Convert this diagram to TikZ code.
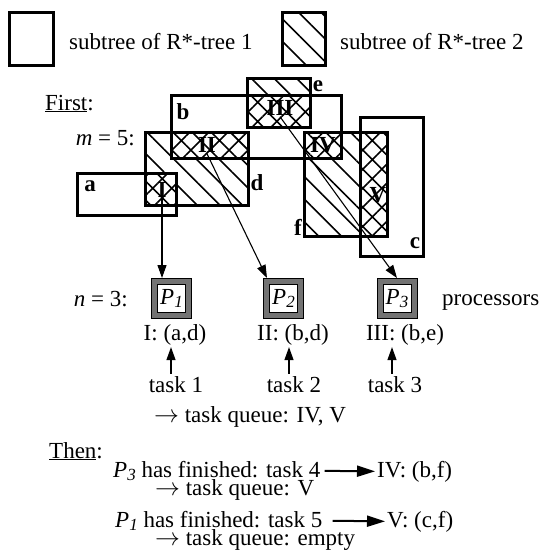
\documentclass[tikz,border=0pt]{standalone}
\usepackage{fontspec}
\setmainfont{Liberation Serif}
\usetikzlibrary{positioning, arrows.meta, patterns.meta, fit}

\newcommand{\proclabel}[1]{\textit{P\raisebox{-0.35ex}{\fontsize{17}{17}\selectfont #1}}}

\begin{document}
\begin{tikzpicture}[
		x=1pt, y=-1pt,
		>=Triangle,
		font=\fontsize{23}{27}\selectfont,
		% rectangles of the two R*-trees
		treeone/.style={inner sep=0pt},
		treetwo/.style={inner sep=0pt,
				pattern={Lines[angle=-45, distance=16pt, line width=1.6pt]}},
		treeborder/.style={draw, line width=2.8pt},
		crosshatch/.style={preaction={fill=white},
				pattern={Hatch[angle=45, distance=13.5pt, line width=1.6pt]}},
		% texts
		rectlabel/.style={font=\fontsize{23}{27}\selectfont\bfseries, inner sep=1pt},
		txt/.style={inner sep=2pt},
		% processors
		proc/.style={draw, line width=1pt, double=black!55, double distance=5pt,
				fill=white, minimum size=34pt, inner sep=0pt, outer sep=3.5pt},
		% arrows
		taskarrow/.style={->, line width=1.1pt, >={Triangle[length=13pt, width=9pt]}},
		assignarrow/.style={->, line width=2pt, >={Triangle[length=18pt, width=11pt]}}
	]
	\useasboundingbox (0,0) rectangle (549,551);

	% legend
	\node[treeone, fit={(10,13) (53,65)}] (legone) {};
	\node[txt, anchor=base west] (legonetext) at (67,50) {subtree of R*-tree 1};
	\node[treetwo, fit={(283,13) (325,65)}] (legtwo) {};
	\node[txt, anchor=base west] (legtwotext) at (338,50) {subtree of R*-tree 2};

	% first step
	\node[txt, anchor=base west] (first) at (43,110) {\underline{First}:};
	\node[txt, anchor=base east] (mfive) at (137,145) {\textit{m} = 5:};

	% the subtrees
	\node[treeone, fit={(78,174) (176,215)}] (a) {};
	\node[treeone, fit={(172,96) (341,158)}] (b) {};
	\node[treeone, fit={(361,118) (423,256)}] (c) {};
	\node[treetwo, fit={(146,133) (248,205)}] (d) {};
	\node[treetwo, fit={(248,79) (310,127)}] (e) {};
	\node[treetwo, fit={(305,133) (387,236)}] (f) {};

	% overlapping parts
	\path[crosshatch] (d.west |- a.north) rectangle (a.east |- d.south);
	\path[crosshatch] (b.west |- d.north) rectangle (d.east |- b.south);
	\path[crosshatch] (e.west |- b.north) rectangle (e.south east);
	\path[crosshatch] (f.north west) rectangle (b.south east);
	\path[crosshatch] (c.west |- f.north) rectangle (f.south east);

	% outlines on top
	\foreach \r in {legone, legtwo, a, b, c, d, e, f}
	\draw[treeborder] (\r.south west) rectangle (\r.north east);

	\node[rectlabel] (la) at (90,186) {a};
	\node[rectlabel] (lb) at (183,112) {b};
	\node[rectlabel] (lc) at (415,243) {c};
	\node[rectlabel] (ld) at (257,183) {d};
	\node[rectlabel] (le) at (318,86) {e};
	\node[rectlabel] (lf) at (298,227) {f};

	\node[rectlabel] (nI) at (162,190) {I};
	\node[rectlabel] (nII) at (207,145) {II};
	\node[rectlabel] (nIII) at (280,108) {III};
	\node[rectlabel] (nIV) at (323,145) {IV};
	\node[rectlabel] (nV) at (378,195) {V};

	% processors
	\node[txt, anchor=base east] (nthree) at (130,306) {\textit{n} = 3:};
	\node[proc] (p1) at (171.5,298.5) {\proclabel{1}};
	\node[proc] (p2) at (283.5,298.5) {\proclabel{2}};
	\node[proc] (p3) at (397,298.5) {\proclabel{3}};
	\node[txt, anchor=base west] (procs) at (440,305) {processors};

	\draw[taskarrow] (nI.south) -- (nI.south |- p1.north);
	\draw[taskarrow] (nII.south) -- ([xshift=4pt]p2.north west);
	\draw[taskarrow] (nIII.south) -- (p3.north);

	% tasks
	\node[txt, anchor=base] (lone) at (175,340) {I: (a,d)};
	\node[txt, anchor=base] (ltwo) at (293,340) {II: (b,d)};
	\node[txt, anchor=base] (lthree) at (405,340) {III: (b,e)};
	\node[txt, anchor=base] (tone) at (176,392) {task 1};
	\node[txt, anchor=base] (ttwo) at (294,392) {task 2};
	\node[txt, anchor=base] (tthree) at (395,392) {task 3};
	\draw[taskarrow] ([xshift=-5pt]tone.north) -- ([xshift=-5pt]tone.north |- lone.south);
	\draw[taskarrow] ([xshift=-5pt]ttwo.north) -- ([xshift=-5pt]ttwo.north |- ltwo.south);
	\draw[taskarrow] ([xshift=-3pt]tthree.north) -- ([xshift=-3pt]tthree.north |- lthree.south);
	\node[txt, anchor=base west] (queueone) at (152,422) {$\rightarrow$ task queue: IV, V};

	% then
	\node[txt, anchor=base west] (then) at (47,458) {\underline{Then}:};
	\node[txt, inner sep=0pt, anchor=base west] (finthree) at (113,477) {\proclabel{3} has finished: task 4};
	\node[txt, anchor=base west] (taskfour) at (375,477) {IV: (b,f)};
	\draw[assignarrow] ([xshift=4pt]finthree.east) -- (taskfour.west);
	\node[txt, inner sep=0pt, anchor=base west] (queuetwo) at (155,495) {$\rightarrow$ task queue: V};
	\node[txt, inner sep=0pt, anchor=base west] (finone) at (115,527) {\proclabel{1} has finished: task 5};
	\node[txt, anchor=base west] (taskfive) at (385,527) {V: (c,f)};
	\draw[assignarrow] ([xshift=10pt]finone.east) -- (taskfive.west);
	\node[txt, inner sep=0pt, anchor=base west] (queuethree) at (155,545) {$\rightarrow$ task queue: empty};
\end{tikzpicture}
\end{document}
